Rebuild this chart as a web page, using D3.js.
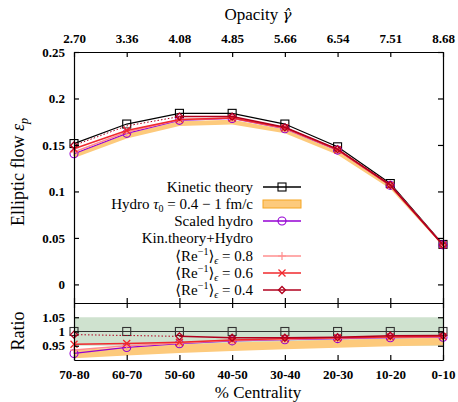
<!DOCTYPE html>
<html>
<head>
<meta charset="utf-8">
<script src="https://cdn.jsdelivr.net/npm/d3@7"></script>
<style>
  body { margin: 0; background: #fff; }
  svg { display: block; }
  text { font-family: "Liberation Serif", "DejaVu Serif", serif; fill: #000; }
  .axis path, .axis line { stroke: #000; stroke-width: 1.2; }
</style>
</head>
<body>
<svg id="chart" width="458" height="402"></svg>
<script>
'use strict'

// categories and tick labels
const centrality = ["70-80", "60-70", "50-60", "40-50", "30-40", "20-30", "10-20", "0-10"];
const opacity = ["2.70", "3.36", "4.08", "4.85", "5.66", "6.54", "7.51", "8.68"];

// elliptic flow values (main panel)
const kinetic   = [0.1515, 0.1725, 0.184, 0.184, 0.1725, 0.148, 0.1085, 0.043];
const hydroLow  = [0.136, 0.157, 0.1705, 0.172, 0.1625, 0.1395, 0.103, 0.041];
const hydroHigh = [0.1405, 0.162, 0.1755, 0.177, 0.167, 0.1435, 0.106, 0.0425];
const scaled    = [0.1405, 0.1625, 0.1765, 0.1785, 0.1675, 0.1445, 0.1065, 0.0425];
const re08      = [0.1425, 0.164, 0.177, 0.179, 0.168, 0.145, 0.107, 0.0425];
const re06      = [0.146, 0.1655, 0.1775, 0.179, 0.1685, 0.1448, 0.1065, 0.0425];
const re04      = [0.1495, 0.1705, 0.1805, 0.1805, 0.169, 0.1455, 0.107, 0.0425];

// ratios to kinetic theory (lower panel)
const ratioScaled = [0.923, 0.944, 0.957, 0.967, 0.971, 0.975, 0.978, 0.98];
const ratio08     = [0.935, 0.950, 0.960, 0.969, 0.973, 0.977, 0.980, 0.982];
const ratio06     = [0.955, 0.958, 0.962, 0.970, 0.975, 0.978, 0.981, 0.983];
const ratio04     = [0.989, 0.986, 0.983, 0.978, 0.978, 0.980, 0.985, 0.986];
const ratioKin    = [1, 1, 1, 1, 1, 1, 1, 1];
const ratioHydroLow  = [0.906, 0.916, 0.925, 0.932, 0.938, 0.943, 0.948, 0.952];
const ratioHydroHigh = [0.935, 0.945, 0.954, 0.961, 0.966, 0.971, 0.975, 0.978];
const greenBand = [0.95, 1.05];

const mainTicks = [0, 0.05, 0.1, 0.15, 0.2, 0.25];
const ratioTicks = [0.95, 1, 1.05];

const colors = {
  kin: "#000000",
  hydroFill: "#fdca7c",
  hydroEdge: "#f5a623",
  scaled: "#9400d3",
  re08: "#ff8f8f",
  re06: "#f0282d",
  re04: "#b0001e",
  green: "#cfe2cf"
};

const svg = d3.select("#chart");
const left = 74, right = 443;

const x = d3.scalePoint().domain(centrality).range([left, right]);
const xTop = d3.scalePoint().domain(opacity).range([left, right]);
const y = d3.scaleLinear().domain([-0.02, 0.25]).range([303, 52]);
const yr = d3.scaleLinear().domain([0.9, 1.1]).range([360, 303]);

// bands in ratio panel
svg.append("rect")
  .attr("x", left).attr("width", right - left)
  .attr("y", yr(greenBand[1])).attr("height", yr(greenBand[0]) - yr(greenBand[1]))
  .attr("fill", colors.green);

function band(lo, hi, ys) {
  return d3.area()
    .x((d, i) => x(centrality[i]))
    .y0((d, i) => ys(lo[i]))
    .y1((d, i) => ys(hi[i]))(lo);
}

svg.append("path").attr("d", band(ratioHydroLow, ratioHydroHigh, yr)).attr("fill", colors.hydroFill);
svg.append("path").attr("d", band(hydroLow, hydroHigh, y)).attr("fill", colors.hydroFill);

// series helpers
function drawSeries(vals, ys, color, width, symbol, opts) {
  opts = opts || {};
  const pts = vals.map((v, i) => [x(centrality[i]), ys(v)]);
  const start = opts.dottedUntil || 0;
  if (start > 0) {
    svg.append("path")
      .attr("d", d3.line()(pts.slice(0, start + 1)))
      .attr("fill", "none").attr("stroke", color).attr("stroke-width", 1)
      .attr("stroke-dasharray", "1.5,2");
  }
  svg.append("path")
    .attr("d", d3.line()(pts.slice(start)))
    .attr("fill", "none").attr("stroke", color).attr("stroke-width", width);
  pts.forEach((p, i) => {
    if (opts.skip && opts.skip.includes(i)) return;
    drawMarker(p[0], p[1], symbol, color);
  });
}

function drawMarker(px, py, symbol, color) {
  const g = svg.append("g").attr("transform", `translate(${px},${py})`);
  if (symbol === "square") {
    g.append("rect").attr("x", -4).attr("y", -4).attr("width", 8).attr("height", 8)
      .attr("fill", "none").attr("stroke", color).attr("stroke-width", 1.1);
  } else if (symbol === "circle") {
    g.append("circle").attr("r", 4).attr("fill", "none").attr("stroke", color).attr("stroke-width", 1.1);
  } else if (symbol === "plus") {
    g.append("path").attr("d", "M-4,0H4M0,-4V4").attr("stroke", color).attr("stroke-width", 1.2);
  } else if (symbol === "cross") {
    g.append("path").attr("d", "M-3.5,-3.5L3.5,3.5M-3.5,3.5L3.5,-3.5").attr("stroke", color).attr("stroke-width", 1.3);
  } else if (symbol === "diamond") {
    g.append("path").attr("d", "M0,-3.5L3.5,0L0,3.5L-3.5,0Z").attr("fill", "none").attr("stroke", color).attr("stroke-width", 1.3);
  }
}

// main panel
drawSeries(kinetic, y, colors.kin, 1.2, "square");
drawSeries(scaled, y, colors.scaled, 1.2, "circle");
drawSeries(re08, y, colors.re08, 1.5, "plus");
drawSeries(re06, y, colors.re06, 1.5, "cross");
drawSeries(re04, y, colors.re04, 1.5, "diamond", {dottedUntil: 2, skip: [1]});

// ratio panel
drawSeries(ratioKin, yr, "#333", 1.2, "square");
drawSeries(ratioScaled, yr, colors.scaled, 1.2, "circle");
drawSeries(ratio08, yr, colors.re08, 1.5, "plus");
drawSeries(ratio06, yr, colors.re06, 1.5, "cross");
drawSeries(ratio04, yr, colors.re04, 1.5, "diamond", {dottedUntil: 2, skip: [1]});

// axes
function addAxis(axis, tx, ty) {
  return svg.append("g").attr("class", "axis")
    .attr("transform", `translate(${tx},${ty})`).call(axis);
}

addAxis(d3.axisLeft(y).tickValues(mainTicks).tickFormat(d3.format("")).tickSize(-5).tickSizeOuter(0).tickPadding(9), left, 0);
addAxis(d3.axisRight(y).tickValues(mainTicks).tickFormat("").tickSize(-5).tickSizeOuter(0), right, 0);
addAxis(d3.axisTop(xTop).tickSize(-5).tickSizeOuter(0).tickPadding(9), 0, 52);
addAxis(d3.axisBottom(x).tickFormat("").tickSize(-5).tickSizeOuter(0), 0, 303);
addAxis(d3.axisTop(x).tickFormat("").tickSize(-5).tickSizeOuter(0), 0, 303);

addAxis(d3.axisLeft(yr).tickValues(ratioTicks).tickFormat(d3.format("")).tickSize(-5).tickSizeOuter(0).tickPadding(9), left, 0);
addAxis(d3.axisRight(yr).tickValues(ratioTicks).tickFormat("").tickSize(-5).tickSizeOuter(0), right, 0);
addAxis(d3.axisBottom(x).tickSize(-5).tickSizeOuter(0).tickPadding(10), 0, 360);

svg.selectAll(".tick text")
  .style("font-family", "'Liberation Serif', serif")
  .style("font-weight", "bold")
  .style("font-size", "13px");

// axis titles
svg.append("text").attr("x", 258).attr("y", 20).attr("text-anchor", "middle")
  .style("font-size", "17px")
  .html('Opacity <tspan font-family="DejaVu Serif" font-style="italic" font-size="15px">γ̂</tspan>');

svg.append("text").attr("x", 258).attr("y", 398).attr("text-anchor", "middle")
  .style("font-size", "17px").text("% Centrality");

svg.append("text").attr("transform", "translate(24,172) rotate(-90)").attr("text-anchor", "middle")
  .style("font-size", "18px")
  .html('Elliptic flow <tspan font-style="italic">ε</tspan><tspan font-style="italic" font-size="12px" dy="4">p</tspan>');

svg.append("text").attr("transform", "translate(24,331) rotate(-90)").attr("text-anchor", "middle")
  .style("font-size", "18px").text("Ratio");

// legend
const legend = [
  {label: 'Kinetic theory', color: colors.kin, symbol: "square", y: 187},
  {label: 'Hydro <tspan font-style="italic">τ</tspan><tspan font-size="10px" dy="3">0</tspan><tspan dy="-3"> = 0.4 − 1 fm/c</tspan>', band: true, y: 204},
  {label: 'Scaled hydro', color: colors.scaled, symbol: "circle", y: 221},
  {label: 'Kin.theory+Hydro', y: 238},
  {label: '⟨Re<tspan font-size="10px" dy="-6">−1</tspan><tspan dy="6">⟩</tspan><tspan font-style="italic" font-size="10px" dy="3">ϵ</tspan><tspan dy="-3"> = 0.8</tspan>', color: colors.re08, symbol: "plus", y: 256},
  {label: '⟨Re<tspan font-size="10px" dy="-6">−1</tspan><tspan dy="6">⟩</tspan><tspan font-style="italic" font-size="10px" dy="3">ϵ</tspan><tspan dy="-3"> = 0.6</tspan>', color: colors.re06, symbol: "cross", y: 273},
  {label: '⟨Re<tspan font-size="10px" dy="-6">−1</tspan><tspan dy="6">⟩</tspan><tspan font-style="italic" font-size="10px" dy="3">ϵ</tspan><tspan dy="-3"> = 0.4</tspan>', color: colors.re04, symbol: "diamond", y: 290}
];

legend.forEach(item => {
  svg.append("text").attr("x", 253).attr("y", item.y + 5).attr("text-anchor", "end")
    .style("font-size", "15px").html(item.label);
  if (item.band) {
    svg.append("rect").attr("x", 263).attr("y", item.y - 4).attr("width", 38).attr("height", 8)
      .attr("fill", colors.hydroFill).attr("stroke", colors.hydroEdge).attr("stroke-width", 1);
  } else if (item.color) {
    svg.append("line").attr("x1", 263).attr("x2", 301).attr("y1", item.y).attr("y2", item.y)
      .attr("stroke", item.color).attr("stroke-width", 1.3);
    drawMarker(282, item.y, item.symbol, item.color);
  }
});
</script>
</body>
</html>
